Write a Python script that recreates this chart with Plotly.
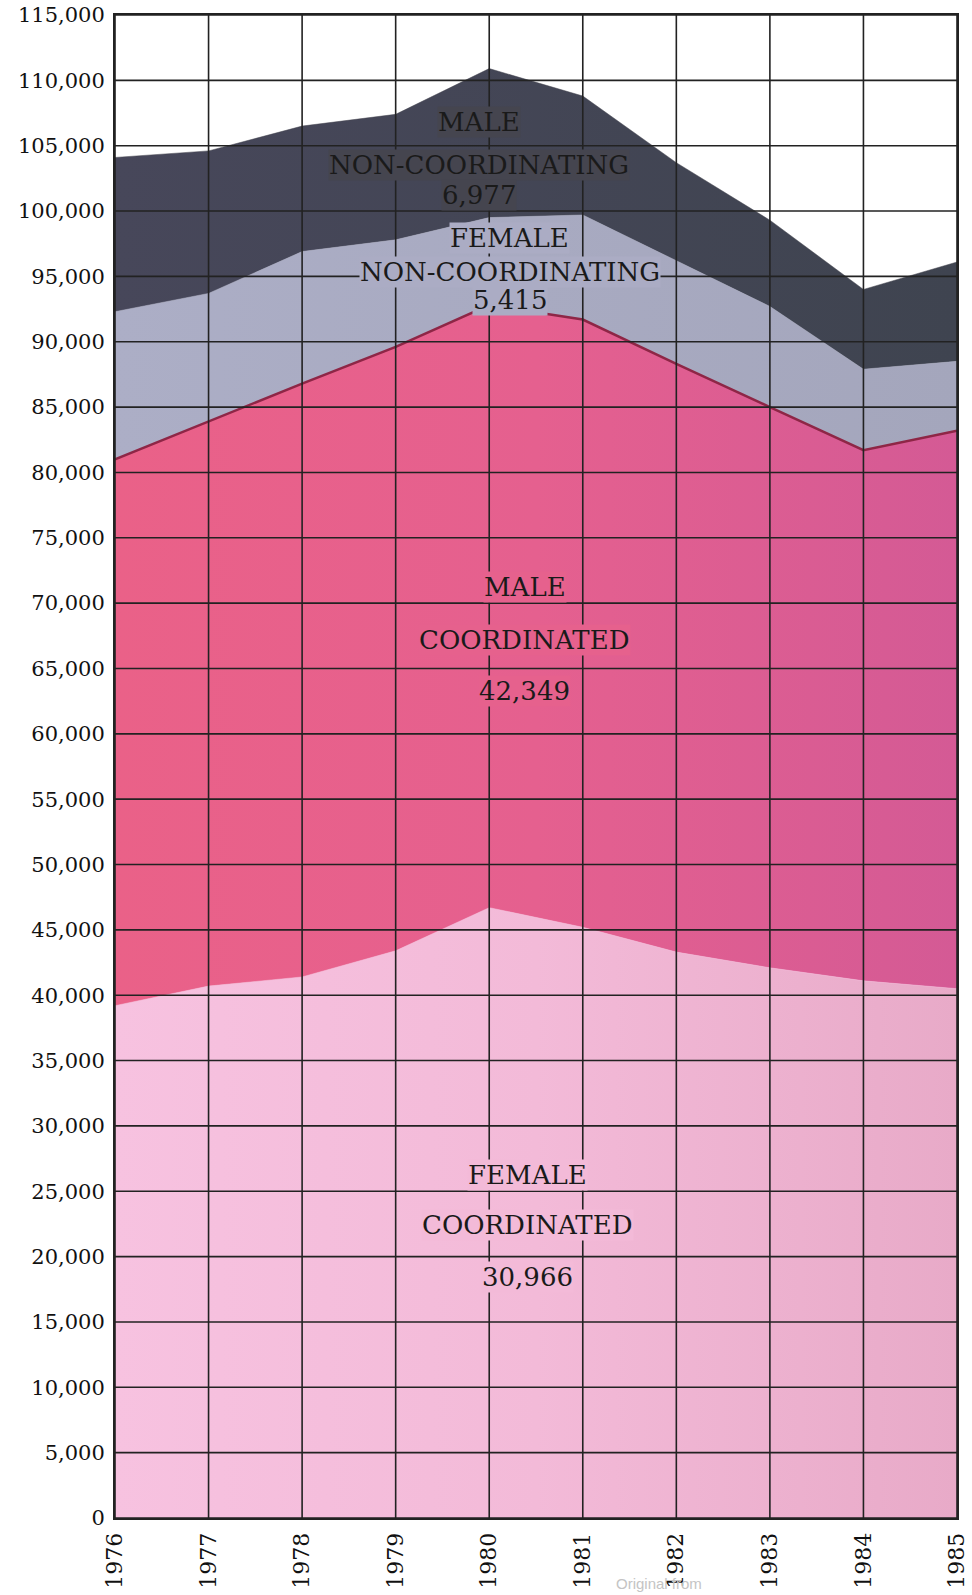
import plotly.graph_objects as go

years = [1976, 1977, 1978, 1979, 1980, 1981, 1982, 1983, 1984, 1985]
female_coordinated = [39200, 40700, 41400, 43400, 46700, 45200, 43300, 42100, 41100, 40500]
male_coordinated = [41800, 43200, 45400, 46200, 46100, 46500, 45000, 42900, 40600, 42700]
female_non_coordinating = [11300, 9800, 10100, 8200, 6700, 8000, 7900, 7700, 6200, 5300]
male_non_coordinating = [11800, 10900, 9600, 9600, 11400, 9100, 7500, 6600, 6100, 7600]

y_ticks = list(range(0, 115001, 5000))
y_tick_text = [f"{v:,}" for v in y_ticks]

FONT = "DejaVu Serif"
C_FC = "#f5bddd"
C_MC = "#e9628f"
C_FNC = "#abacc4"
C_MNC = "#45454f"

fig = go.Figure()
series = [
    ("Female coordinated", female_coordinated, C_FC, C_FC, 0.5,
     [[0, "#f7c2e0"], [0.5, "#f3bad8"], [1, "#e8aac8"]]),
    ("Male coordinated", male_coordinated, C_MC, "#8e2646", 2.5,
     [[0, "#ea6188"], [0.5, "#e5608f"], [1, "#d45a95"]]),
    ("Female non-coordinating", female_non_coordinating, C_FNC, C_FNC, 0.5,
     [[0, "#acaec6"], [1, "#a4a6bc"]]),
    ("Male non-coordinating", male_non_coordinating, C_MNC, C_MNC, 0.5,
     [[0, "#47475a"], [1, "#3f4450"]]),
]
for name, vals, fc, lc, lw, grad in series:
    fig.add_trace(go.Scatter(
        x=years, y=vals, name=name, mode="lines", stackgroup="one",
        fillcolor=fc, fillgradient=dict(type="horizontal", colorscale=grad),
        line=dict(color=lc, width=lw), showlegend=False,
    ))

# gridlines drawn above the fills
grid = dict(color="#222222", width=1.6)
for yr in years:
    fig.add_shape(type="line", xref="x", yref="paper", x0=yr, x1=yr, y0=0, y1=1,
                  line=grid, layer="above")
for v in y_ticks:
    fig.add_shape(type="line", xref="paper", yref="y", x0=0, x1=1, y0=v, y1=v,
                  line=grid, layer="above")

# labels (one annotation per line so gridlines show between lines)
labels = [
    (1979.89, 106800, "MALE", C_MNC),
    (1979.89, 103550, "NON-COORDINATING", C_MNC),
    (1979.89, 101250, "6,977", C_MNC),
    (1980.22, 97930, "FEMALE", C_FNC),
    (1980.22, 95360, "NON-COORDINATING", C_FNC),
    (1980.22, 93200, "5,415", C_FNC),
    (1980.38, 71200, "MALE", "#e6618d"),
    (1980.38, 67200, "COORDINATED", "#e6618d"),
    (1980.38, 63300, "42,349", "#e6618d"),
    (1980.41, 26250, "FEMALE", "#f3bad8"),
    (1980.41, 22450, "COORDINATED", "#f3bad8"),
    (1980.41, 18450, "30,966", "#f3bad8"),
]
for x, y, t, bg in labels:
    fig.add_annotation(x=x, y=y, xref="x", yref="y", text=t, showarrow=False,
                       font=dict(family=FONT, size=26, color="#1a1a1a"),
                       bgcolor=bg, borderpad=0)

fig.add_annotation(x=0.70, y=0, xref="paper", yref="paper", yshift=-76,
                   text="Original from", showarrow=False,
                   font=dict(family="Liberation Sans", size=15, color="#c4c4c4"),
                   yanchor="bottom")

fig.update_layout(
    width=972, height=1595,
    margin=dict(l=115, r=15, t=15, b=77),
    paper_bgcolor="white", plot_bgcolor="white",
    font=dict(family=FONT, color="#111111"),
    xaxis=dict(range=[1976, 1985], tickmode="array", tickvals=years,
               ticktext=[str(y) for y in years], tickangle=-90,
               tickfont=dict(family=FONT, size=22, color="#111111"),
               showgrid=False, zeroline=False, showline=True, mirror=True,
               linecolor="#222222", linewidth=2, ticks="", ticklabelstandoff=4,
               automargin=False, ticklabeloverflow="allow"),
    yaxis=dict(range=[0, 115000], tickmode="array", tickvals=y_ticks,
               ticktext=y_tick_text,
               tickfont=dict(family=FONT, size=21, color="#111111"),
               showgrid=False, zeroline=False, showline=True, mirror=True,
               linecolor="#222222", linewidth=2, ticks="", automargin=False,
               ticklabelstandoff=4, ticklabeloverflow="allow"),
)

# remove the browser's default 8px page margin so the figure fills the window
fig.write_html("out.html", config={"displayModeBar": False},
               post_script="document.body.style.margin='0';document.body.style.overflow='hidden';")
